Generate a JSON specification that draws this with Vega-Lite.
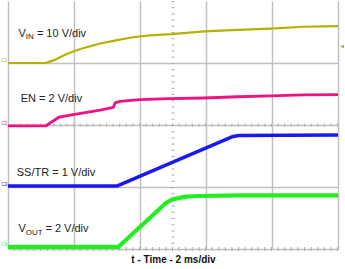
{
  "$schema": "https://vega.github.io/schema/vega-lite/v6.json",
  "width": 330,
  "height": 248,
  "autosize": {"type": "none"},
  "padding": {"left": 8, "top": 1, "right": 7, "bottom": 20},
  "background": "white",
  "config": {"view": {"stroke": null}},
  "data": {
    "values": [
      {"ch": "VIN", "t": 0, "v": 6.0},
      {"ch": "VIN", "t": 2.28, "v": 6.0},
      {"ch": "VIN", "t": 2.4, "v": 6.02},
      {"ch": "VIN", "t": 2.88, "v": 6.11},
      {"ch": "VIN", "t": 3.59, "v": 6.3},
      {"ch": "VIN", "t": 4.38, "v": 6.45},
      {"ch": "VIN", "t": 5.59, "v": 6.63},
      {"ch": "VIN", "t": 6.61, "v": 6.74},
      {"ch": "VIN", "t": 7.57, "v": 6.83},
      {"ch": "VIN", "t": 8.59, "v": 6.89},
      {"ch": "VIN", "t": 9.91, "v": 6.93},
      {"ch": "VIN", "t": 11.89, "v": 7.02},
      {"ch": "VIN", "t": 13.92, "v": 7.07},
      {"ch": "VIN", "t": 15.92, "v": 7.11},
      {"ch": "VIN", "t": 17.9, "v": 7.17},
      {"ch": "VIN", "t": 20, "v": 7.19},
      {"ch": "EN", "t": 0, "v": 3.97},
      {"ch": "EN", "t": 2.28, "v": 3.97},
      {"ch": "EN", "t": 3.08, "v": 4.25},
      {"ch": "EN", "t": 3.59, "v": 4.3},
      {"ch": "EN", "t": 4.58, "v": 4.39},
      {"ch": "EN", "t": 5.59, "v": 4.48},
      {"ch": "EN", "t": 6.38, "v": 4.57},
      {"ch": "EN", "t": 6.49, "v": 4.71},
      {"ch": "EN", "t": 6.79, "v": 4.76},
      {"ch": "EN", "t": 7.99, "v": 4.82},
      {"ch": "EN", "t": 9.79, "v": 4.85},
      {"ch": "EN", "t": 11.89, "v": 4.87},
      {"ch": "EN", "t": 13.92, "v": 4.91},
      {"ch": "EN", "t": 15.92, "v": 4.94},
      {"ch": "EN", "t": 17.9, "v": 4.97},
      {"ch": "EN", "t": 20, "v": 4.98},
      {"ch": "SS/TR", "t": 0, "v": 2.03},
      {"ch": "SS/TR", "t": 6.59, "v": 2.03},
      {"ch": "SS/TR", "t": 13.57, "v": 3.62},
      {"ch": "SS/TR", "t": 13.99, "v": 3.66},
      {"ch": "SS/TR", "t": 20, "v": 3.68},
      {"ch": "VOUT", "t": 0, "v": 0.07},
      {"ch": "VOUT", "t": 6.7, "v": 0.07},
      {"ch": "VOUT", "t": 9.59, "v": 1.49},
      {"ch": "VOUT", "t": 9.97, "v": 1.6},
      {"ch": "VOUT", "t": 10.39, "v": 1.65},
      {"ch": "VOUT", "t": 10.79, "v": 1.69},
      {"ch": "VOUT", "t": 11.59, "v": 1.71},
      {"ch": "VOUT", "t": 13.99, "v": 1.73},
      {"ch": "VOUT", "t": 20, "v": 1.73}
    ]
  },
  "layer": [
    {
      "data": {"values": [{}]},
      "mark": {"type": "rule", "color": "#a8a8a8", "strokeWidth": 3, "strokeDash": [1, 5.6]},
      "encoding": {"y": {"datum": 4}}
    },
    {
      "data": {"values": [{}]},
      "mark": {"type": "rule", "color": "#a8a8a8", "strokeWidth": 3, "strokeDash": [1, 5.2]},
      "encoding": {"x": {"datum": 10}}
    },
    {
      "data": {"values": [{}]},
      "mark": {"type": "rule", "color": "#a8a8a8", "strokeWidth": 4, "strokeDash": [1, 5.6]},
      "encoding": {"y": {"datum": 0}}
    },
    {
      "mark": {"type": "line", "strokeCap": "butt", "strokeJoin": "round"},
      "encoding": {
        "x": {
          "field": "t", "type": "quantitative",
          "scale": {"domain": [0, 20], "nice": false, "zero": false},
          "axis": {
            "values": [0, 2, 4, 6, 8, 10, 12, 14, 16, 18, 20],
            "grid": true, "gridColor": "#c0c0c0", "gridWidth": 1.5, "gridOpacity": 1,
            "ticks": false, "labels": false, "domain": false,
            "title": "t - Time - 2 ms/div",
            "titleFont": "Liberation Sans", "titleFontSize": 10, "titleFontWeight": "bold",
            "titleColor": "#111", "titleBaseline": "alphabetic", "titleY": 13
          }
        },
        "y": {
          "field": "v", "type": "quantitative",
          "scale": {"domain": [0, 8], "nice": false, "zero": false},
          "axis": {
            "values": [0, 1, 2, 3, 4, 5, 6, 7],
            "grid": true, "gridColor": "#c0c0c0", "gridWidth": 1.5, "gridOpacity": 1,
            "ticks": false, "labels": false, "domain": false, "title": null
          }
        },
        "color": {
          "field": "ch", "type": "nominal",
          "scale": {"domain": ["VIN", "EN", "SS/TR", "VOUT"], "range": ["#b5b100", "#f0137f", "#1a1af0", "#22ee22"]},
          "legend": null
        },
        "strokeWidth": {
          "field": "ch", "type": "nominal",
          "scale": {"domain": ["VIN", "EN", "SS/TR", "VOUT"], "range": [2.2, 4.2, 2.6, 2.6]},
          "legend": null
        },
        "order": {"field": "t", "type": "quantitative"}
      }
    },
    {
      "data": {"values": [{}]},
      "mark": {"type": "text", "align": "left", "baseline": "alphabetic", "font": "Liberation Sans", "fontSize": 11, "color": "#222"},
      "encoding": {"x": {"datum": 0.63}, "y": {"datum": 6.848}, "text": {"value": "V"}}
    },
    {
      "data": {"values": [{}]},
      "mark": {"type": "text", "align": "left", "baseline": "alphabetic", "font": "Liberation Sans", "fontSize": 8, "color": "#222"},
      "encoding": {"x": {"datum": 1.08}, "y": {"datum": 6.768}, "text": {"value": "IN"}}
    },
    {
      "data": {"values": [{}]},
      "mark": {"type": "text", "align": "left", "baseline": "alphabetic", "font": "Liberation Sans", "fontSize": 11, "color": "#222"},
      "encoding": {"x": {"datum": 1.75}, "y": {"datum": 6.848}, "text": {"value": "= 10 V/div"}}
    },
    {
      "data": {"values": [{}]},
      "mark": {"type": "text", "align": "left", "baseline": "alphabetic", "font": "Liberation Sans", "fontSize": 11, "color": "#222"},
      "encoding": {"x": {"datum": 0.77}, "y": {"datum": 4.746}, "text": {"value": "EN = 2 V/div"}}
    },
    {
      "data": {"values": [{}]},
      "mark": {"type": "text", "align": "left", "baseline": "alphabetic", "font": "Liberation Sans", "fontSize": 11, "color": "#222"},
      "encoding": {"x": {"datum": 0.53}, "y": {"datum": 2.346}, "text": {"value": "SS/TR = 1 V/div"}}
    },
    {
      "data": {"values": [{}]},
      "mark": {"type": "text", "align": "left", "baseline": "alphabetic", "font": "Liberation Sans", "fontSize": 11, "color": "#222"},
      "encoding": {"x": {"datum": 0.63}, "y": {"datum": 0.544}, "text": {"value": "V"}}
    },
    {
      "data": {"values": [{}]},
      "mark": {"type": "text", "align": "left", "baseline": "alphabetic", "font": "Liberation Sans", "fontSize": 8, "color": "#222"},
      "encoding": {"x": {"datum": 1.08}, "y": {"datum": 0.464}, "text": {"value": "OUT"}}
    },
    {
      "data": {"values": [{}]},
      "mark": {"type": "text", "align": "left", "baseline": "alphabetic", "font": "Liberation Sans", "fontSize": 11, "color": "#222"},
      "encoding": {"x": {"datum": 2.27}, "y": {"datum": 0.544}, "text": {"value": "= 2 V/div"}}
    },
    {
      "data": {"values": [{}]},
      "mark": {"type": "text", "align": "left", "baseline": "middle", "font": "Liberation Sans", "fontSize": 4.5, "color": "#b5b100"},
      "encoding": {"x": {"datum": -0.4}, "y": {"datum": 6.05}, "text": {"value": "C1"}}
    },
    {
      "data": {"values": [{}]},
      "mark": {"type": "text", "align": "left", "baseline": "middle", "font": "Liberation Sans", "fontSize": 4.5, "color": "#f0137f"},
      "encoding": {"x": {"datum": -0.4}, "y": {"datum": 4.03}, "text": {"value": "C2"}}
    },
    {
      "data": {"values": [{}]},
      "mark": {"type": "text", "align": "left", "baseline": "middle", "font": "Liberation Sans", "fontSize": 4.5, "color": "#1a1af0"},
      "encoding": {"x": {"datum": -0.4}, "y": {"datum": 2.05}, "text": {"value": "C3"}}
    },
    {
      "data": {"values": [{}]},
      "mark": {"type": "text", "align": "left", "baseline": "middle", "font": "Liberation Sans", "fontSize": 4.5, "color": "#22ee22"},
      "encoding": {"x": {"datum": -0.4}, "y": {"datum": 0.13}, "text": {"value": "C4"}}
    },
    {
      "data": {"values": [{}]},
      "mark": {"type": "point", "shape": "triangle-left", "filled": true, "size": 16, "color": "#b5b100", "opacity": 1},
      "encoding": {"x": {"datum": 20.25}, "y": {"datum": 6.53}}
    }
  ]
}
